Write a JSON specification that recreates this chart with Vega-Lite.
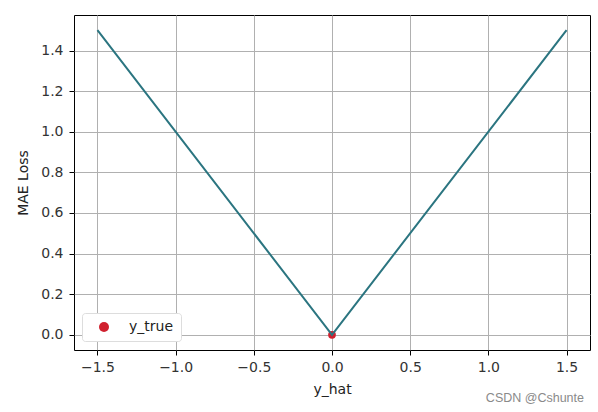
{
  "$schema": "https://vega.github.io/schema/vega-lite/v6.json",
  "autosize": {"type": "none"},
  "width": 516,
  "height": 335,
  "padding": {"left": 74, "top": 15, "right": 8, "bottom": 62},
  "background": "white",
  "config": {
    "font": "DejaVu Sans",
    "view": {"stroke": "#000000", "strokeWidth": 1}
  },
  "datasets": {
    "loss": [
      {"y_hat": -1.5, "mae": 1.5},
      {"y_hat": 0.0, "mae": 0.0},
      {"y_hat": 1.5, "mae": 1.5}
    ],
    "truth": [
      {"y_hat": 0.0, "mae": 0.0, "label": "y_true"}
    ]
  },
  "title": {
    "text": "CSDN @Cshunte",
    "orient": "bottom",
    "anchor": "end",
    "fontSize": 12.5,
    "fontWeight": "normal",
    "color": "#8a8a8a",
    "font": "Liberation Sans",
    "offset": -4,
    "dx": -6
  },
  "layer": [
    {
      "data": {"name": "truth"},
      "mark": {"type": "point", "filled": true, "size": 60, "opacity": 1},
      "encoding": {
        "x": {
          "field": "y_hat", "type": "quantitative",
          "scale": {"domain": [-1.65, 1.65], "nice": false, "zero": false},
          "axis": {
            "title": "y_hat", "values": [-1.5, -1, -0.5, 0, 0.5, 1, 1.5], "format": ".1f",
            "labelFontSize": 14, "labelColor": "#333333", "titleFontSize": 14, "titleFontWeight": "normal", "titleColor": "#222222",
            "domain": false, "tickColor": "#000000", "tickSize": 5, "labelPadding": 5, "titlePadding": 8,
            "grid": true, "gridColor": "#b0b0b0", "gridWidth": 1
          }
        },
        "y": {
          "field": "mae", "type": "quantitative",
          "scale": {"domain": [-0.075, 1.575], "nice": false, "zero": false},
          "axis": {
            "title": "MAE Loss", "values": [0, 0.2, 0.4, 0.6, 0.8, 1.0, 1.2, 1.4], "format": ".1f",
            "labelFontSize": 14, "labelColor": "#333333", "titleFontSize": 14, "titleFontWeight": "normal", "titleColor": "#222222",
            "domain": false, "tickColor": "#000000", "tickSize": 5, "labelPadding": 6, "titlePadding": 10,
            "grid": true, "gridColor": "#b0b0b0", "gridWidth": 1
          }
        },
        "color": {
          "field": "label", "type": "nominal",
          "scale": {"range": ["#d0202e"]},
          "legend": {
            "title": null, "orient": "none", "legendX": 8, "legendY": 298,
            "symbolType": "circle", "symbolSize": 100, "symbolOffset": 8,
            "labelFontSize": 14, "labelColor": "#222222", "labelOffset": 18,
            "padding": 7, "fillColor": "white", "strokeColor": "#dddddd", "cornerRadius": 3
          }
        }
      }
    },
    {
      "data": {"name": "loss"},
      "mark": {"type": "line", "color": "#2b7580", "strokeWidth": 2},
      "encoding": {
        "x": {"field": "y_hat", "type": "quantitative"},
        "y": {"field": "mae", "type": "quantitative"}
      }
    }
  ]
}
